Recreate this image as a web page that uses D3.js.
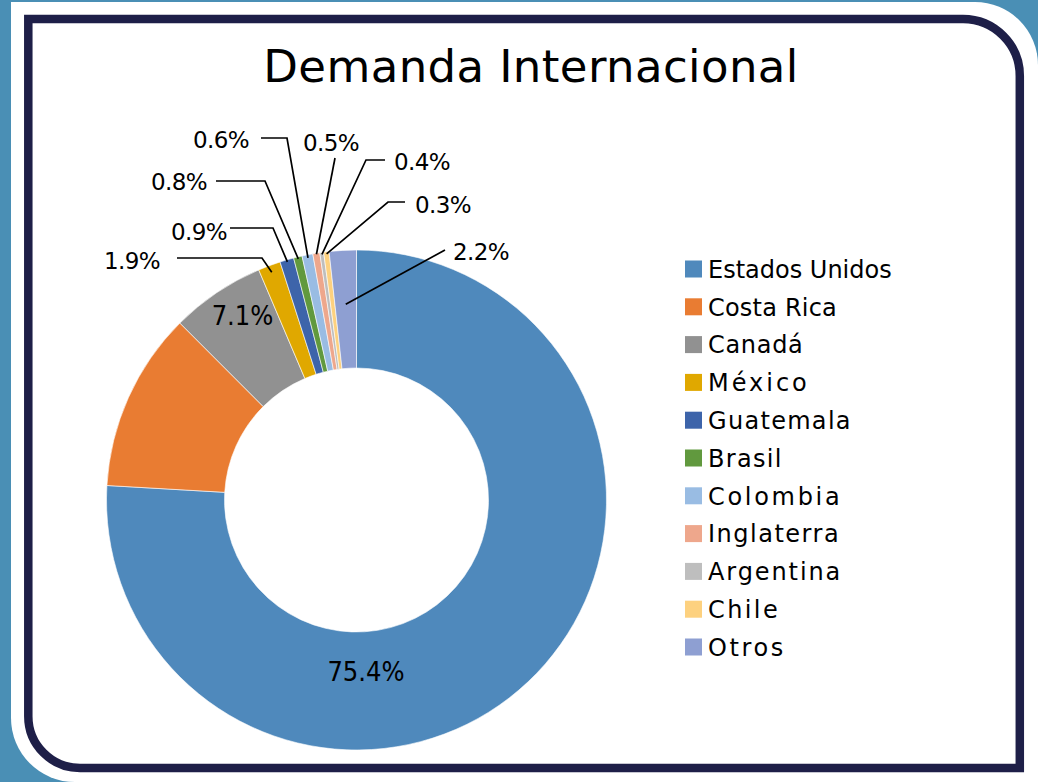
<!DOCTYPE html>
<html>
<head>
<meta charset="utf-8">
<script src="https://cdn.jsdelivr.net/npm/d3@7/dist/d3.min.js"></script>
<style>
  html, body { margin: 0; padding: 0; background: #4A8FB5; }
  svg { display: block; }
</style>
</head>
<body>
<svg id="chart" width="1038" height="782"></svg>
<script>
// ---------------- data ----------------
const title = "Demanda Internacional";
const categories = ["Estados Unidos", "Costa Rica", "Canadá", "México", "Guatemala", "Brasil",
                    "Colombia", "Inglaterra", "Argentina", "Chile", "Otros"];
// slice shares as drawn (percent of the ring)
const shares = [76.0, 11.6, 6.1, 1.45, 0.9, 0.55, 0.7, 0.45, 0.25, 0.35, 1.75];
// data label values as printed on the chart (Costa Rica has none)
const labelValues = [75.4, null, 7.1, 1.9, 0.9, 0.8, 0.6, 0.5, 0.4, 0.3, 2.2];

// ---------------- style ----------------
const colors = ["#4F89BC", "#E97C32", "#919191", "#E0A800", "#3D64AA", "#61993E",
                "#99BCE3", "#EEA78C", "#BEBEBE", "#FDD17F", "#8E9FD2"];
const legendSpacing = [0, 0.2, 0.7, 3.0, 1.3, 1.3, 2.7, 1.5, 1.9, 2.4, 2.6];
const FONT = "'DejaVu Sans', 'Noto Sans', sans-serif";
const NARROW = "'Liberation Sans Narrow', 'Arial Narrow', 'DejaVu Sans Condensed', sans-serif";

// label layout relative to the ring centre
// inside labels: {x, y} centre; outside: text anchor position, elbow and tail of leader
const labelLayout = [
  {inside: true, x: 9.5, y: 171},
  null,
  {inside: true, x: -114, y: -184.5},
  {x: -196.5, y: -239, anchor: "end",    r: 243, ex: -94.5, ey: -242, tx: -179.5},
  {x: -129.5, y: -268, anchor: "end",    r: 248, ex: -83.5, ey: -272, tx: -126.5},
  {x: -149.5, y: -318, anchor: "end",    r: 248, ex: -91.5, ey: -319, tx: -140.5},
  {x: -107.5, y: -360, anchor: "end",    r: 247, ex: -69.5, ey: -362, tx: -95.5},
  {x: -25.5,  y: -357, anchor: "middle", r: 249, ex: -21.5, ey: -342, tx: -21.5},
  {x: 37.5,   y: -338, anchor: "start",  r: 248, ex: 9.5,   ey: -340, tx: 28.5},
  {x: 58.5,   y: -295, anchor: "start",  r: 248, ex: 31.5,  ey: -298, tx: 48.5},
  {x: 96.5,   y: -248, anchor: "start",  r: 196, ex: 88.5,  ey: -250, tx: 88.5}
];

const W = 1038, H = 782;
const cx = 356.5, cy = 500, R = 250, r0 = 132;

const svg = d3.select("#chart");

// ---------------- frame ----------------
svg.append("rect").attr("width", W).attr("height", H).attr("fill", "#4A8FB5");
svg.append("path")
  .attr("d", "M11,2 H975 A63,63 0 0 1 1038,65 V782 H75 A64,64 0 0 1 11,718 Z")
  .attr("fill", "#ffffff");
svg.append("path")
  .attr("d", "M28.3,19 H963 A57,57 0 0 1 1019.8,76 V768 H80 A51.7,51.7 0 0 1 28.3,716.3 Z")
  .attr("fill", "none").attr("stroke", "#1E1F48").attr("stroke-width", 8.5);

// ---------------- title ----------------
svg.append("text")
  .attr("x", 531).attr("y", 82)
  .attr("text-anchor", "middle")
  .style("font-family", FONT).style("font-size", "45px").style("letter-spacing", "0.4px")
  .attr("fill", "#000").text(title);

// ---------------- donut ----------------
const data = categories.map((c, i) => ({name: c, share: shares[i], label: labelValues[i], i}));
const pie = d3.pie().value(d => d.share).sort(null).startAngle(0).endAngle(2 * Math.PI);
const arcs = pie(data);
const arc = d3.arc().innerRadius(r0).outerRadius(R);
const color = d3.scaleOrdinal().domain(categories).range(colors);

const g = svg.append("g").attr("transform", `translate(${cx},${cy})`);
g.selectAll("path.slice").data(arcs).join("path")
  .attr("class", "slice")
  .attr("d", arc)
  .attr("fill", d => color(d.data.name))
  .attr("stroke", "#ffffff").attr("stroke-width", 0.6);

const fmt = v => d3.format(".1f")(v) + "%";

// leaders
arcs.forEach((a, i) => {
  const L = labelLayout[i];
  if (!L || L.inside || labelValues[i] == null) return;
  const mid = (a.startAngle + a.endAngle) / 2;
  const px = L.r * Math.sin(mid), py = -L.r * Math.cos(mid);
  const pts = [[px, py], [L.ex, L.ey]];
  if (L.tx !== L.ex) pts.push([L.tx, L.ey]);
  g.append("path")
    .attr("d", d3.line()(pts))
    .attr("fill", "none").attr("stroke", "#000").attr("stroke-width", 1.7);
});

// labels
arcs.forEach((a, i) => {
  const L = labelLayout[i];
  if (!L || labelValues[i] == null) return;
  if (L.inside) {
    g.append("text")
      .attr("x", L.x).attr("y", L.y + 0.36 * 27)
      .attr("text-anchor", "middle")
      .style("font-family", NARROW).style("font-size", "27px")
      .attr("fill", "#000").text(fmt(labelValues[i]));
  } else {
    g.append("text")
      .attr("x", L.x).attr("y", L.y + 0.365 * 23)
      .attr("text-anchor", L.anchor)
      .style("font-family", FONT).style("font-size", "23px").style("letter-spacing", "-0.6px")
      .attr("fill", "#000").text(fmt(labelValues[i]));
  }
});

// ---------------- legend ----------------
const legend = svg.append("g").attr("transform", "translate(685,269)");
const rowH = 37.8;
const rows = legend.selectAll("g").data(categories).join("g")
  .attr("transform", (d, i) => `translate(0,${i * rowH})`);
rows.append("rect")
  .attr("x", 0).attr("y", -8.5).attr("width", 17).attr("height", 17)
  .attr("fill", d => color(d));
rows.append("text")
  .attr("x", 23).attr("y", 0.365 * 24)
  .style("font-family", FONT).style("font-size", "24px")
  .style("letter-spacing", (d, i) => legendSpacing[i] + "px")
  .attr("fill", "#000").text(d => d);
</script>
</body>
</html>
